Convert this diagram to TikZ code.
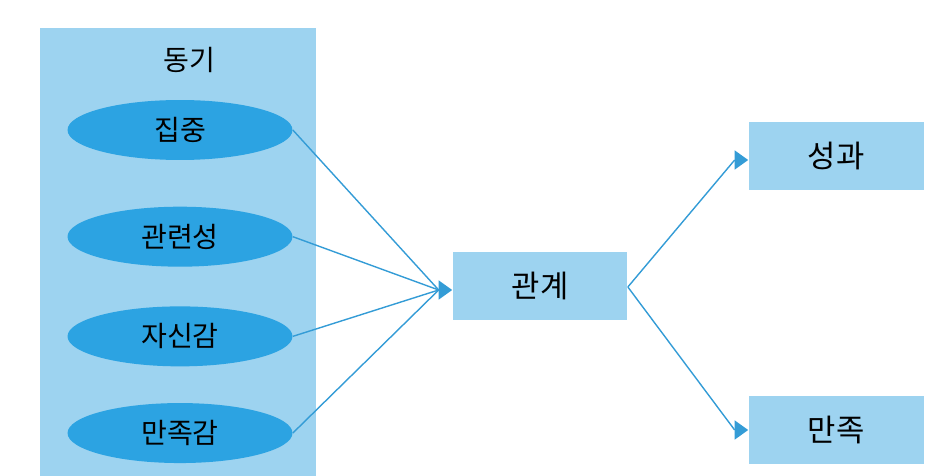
\documentclass[tikz,border=0pt]{standalone}
\usepackage{fontspec}
\setmainfont{Noto Sans CJK KR}
\usepackage{tikz}
\usetikzlibrary{arrows.meta, positioning, shapes.geometric}
\usepackage{xcolor}
\definecolor{panelblue}{RGB}{157,211,240}
\definecolor{ovalblue}{RGB}{44,163,226}
\definecolor{lineblue}{RGB}{52,156,214}

\begin{document}
\begin{tikzpicture}[x=0.02cm, y=-0.02cm, node distance=0.8cm,
  every node/.style={font=\fontsize{16}{19}\selectfont},
  oval/.style={ellipse, fill=ovalblue, minimum width=4.5cm, minimum height=1.2cm, inner sep=0pt},
  box/.style={rectangle, fill=panelblue, minimum width=3.5cm, minimum height=1.36cm, font=\fontsize{17.5}{20}\selectfont},
  link/.style={draw=lineblue, line width=0.8pt},
  tip/.style={draw=lineblue, line width=0.8pt, -{Triangle[length=0.27cm, width=0.38cm]}}]
  \useasboundingbox (0,0) rectangle (952,476);

  % Motivation panel
  \node (panel) [fill=panelblue, minimum width=5.52cm, minimum height=8.96cm, inner sep=0pt] at (178,252) {};
  \node (title) at (189,60) {동기};

  % Motivation factors
  \node (focus) [oval] at (180,130) {집중};
  \node (relate) [oval, below=0.92cm of focus] {관련성};
  \node (conf) [oval, below=0.78cm of relate] {자신감};
  \node (satis) [oval, below=0.72cm of conf] {만족감};

  % Result boxes
  \node (rel) [box] at (540,286) {관계};
  \node (perf) [box] at (836,156) {성과};
  \node (content) [box] at (836,430) {만족};

  % Arrow bases
  \coordinate (relin) at ([xshift=-0.27cm, yshift=-0.08cm]rel.west);
  \coordinate (perfin) at ([xshift=-0.27cm, yshift=-0.08cm]perf.west);
  \coordinate (contentin) at ([xshift=-0.27cm]content.west);

  % Arrows
  \draw[link] (focus.east) -- (relin);
  \draw[link] (relate.east) -- (relin);
  \draw[link] (conf.east) -- (relin);
  \draw[link] (satis.east) -- (relin);
  \draw[tip] (relin) -- (relin -| rel.west);
  \draw[link] ([yshift=-0.02cm]rel.east) -- (perfin);
  \draw[link] ([yshift=-0.02cm]rel.east) -- (contentin);
  \draw[tip] (perfin) -- (perfin -| perf.west);
  \draw[tip] (contentin) -- (content.west);
\end{tikzpicture}
\end{document}
